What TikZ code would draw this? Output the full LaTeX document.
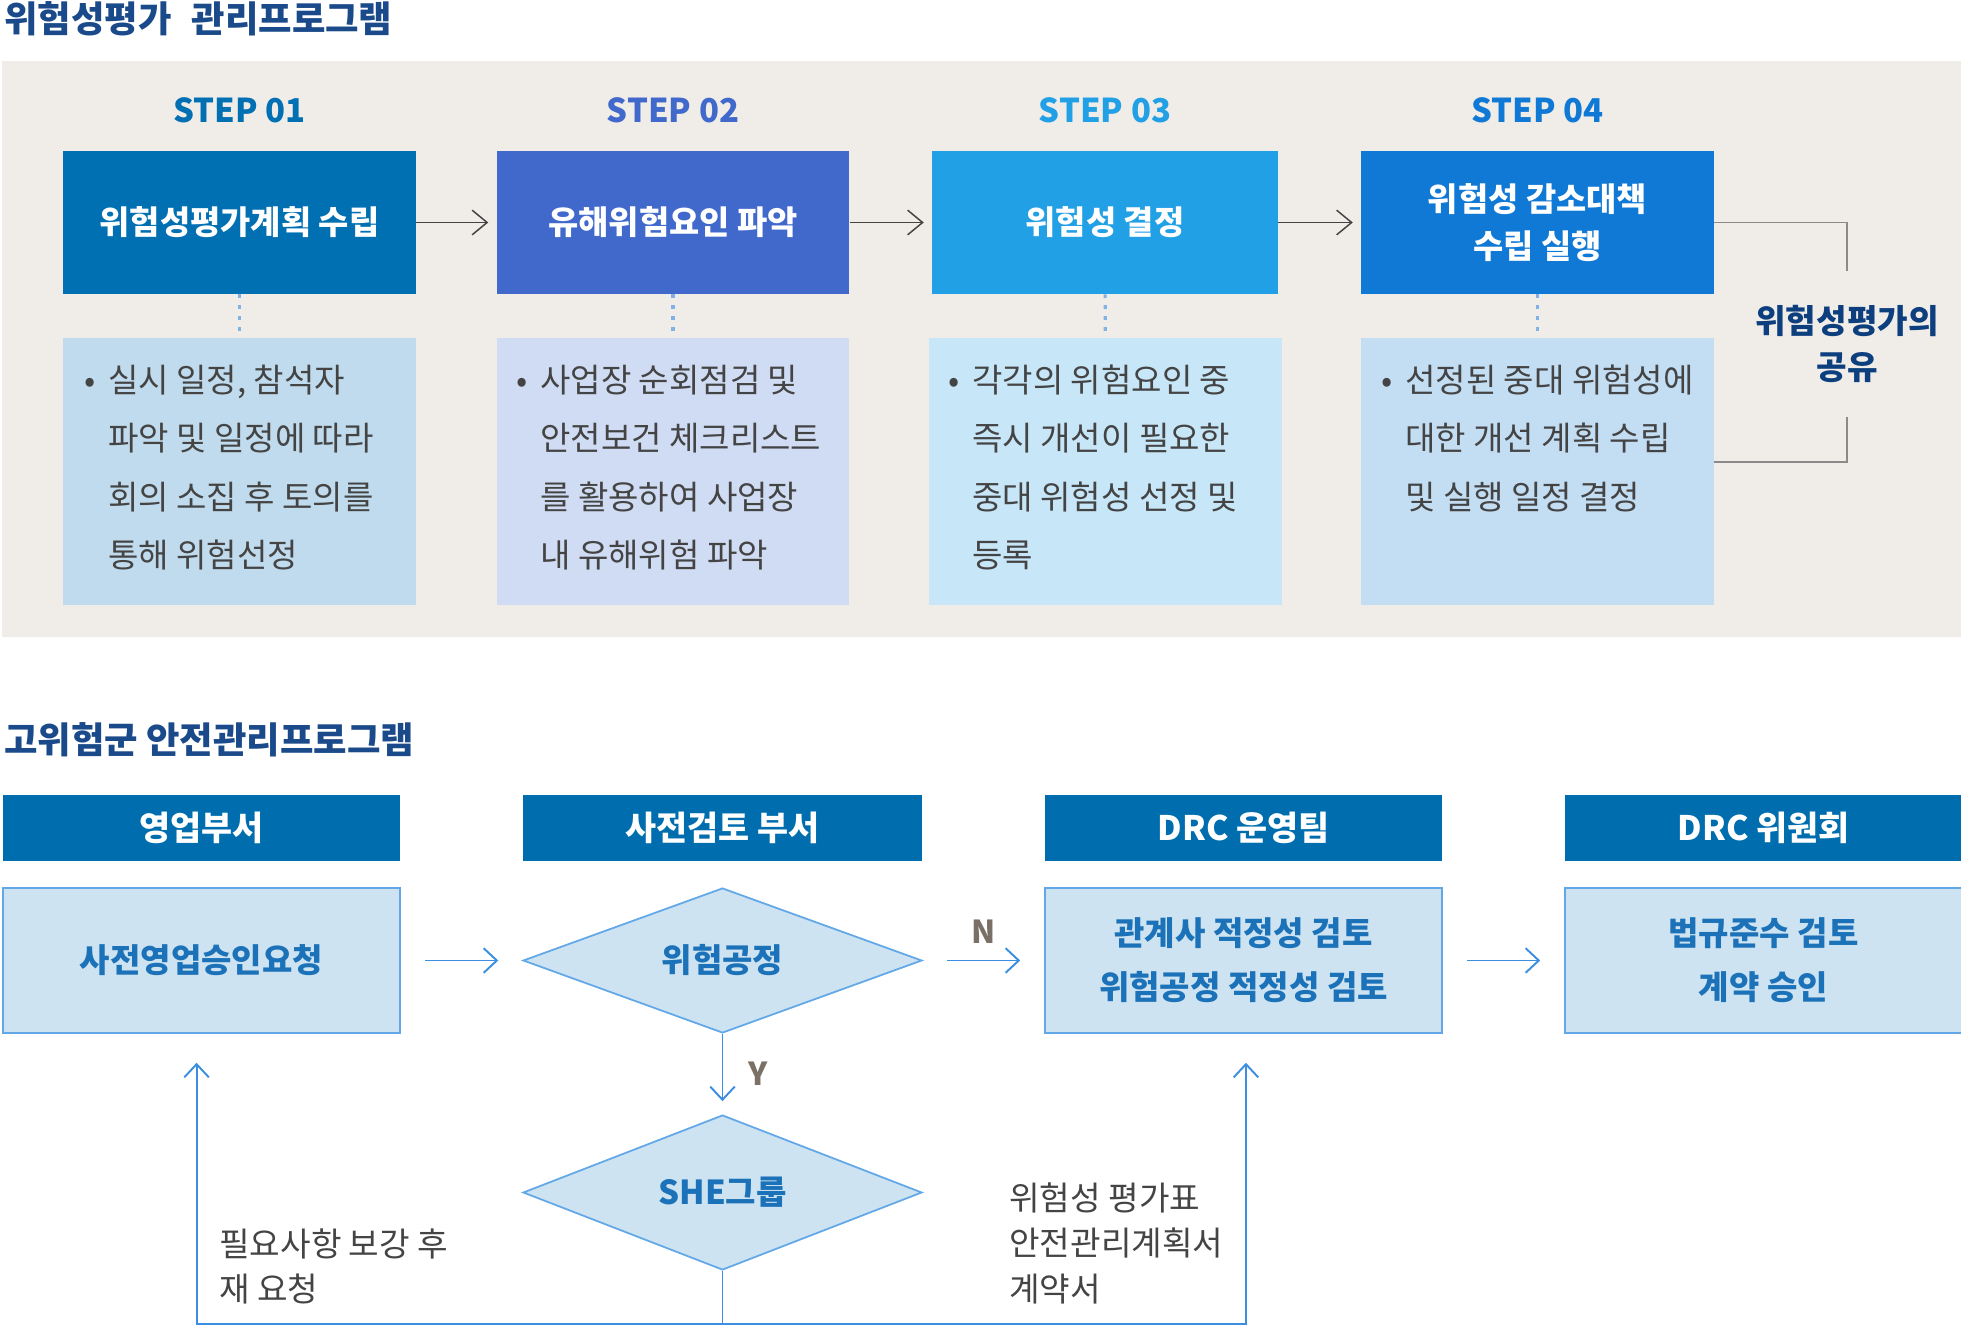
\documentclass[tikz,border=0pt]{standalone}
\usepackage{fontspec}
\setmainfont{Noto Sans CJK KR}
\usetikzlibrary{positioning,shapes.geometric,arrows.meta}
\definecolor{titlenavy}{HTML}{1B4A8A}
\definecolor{sharenavy}{HTML}{0D3F7E}
\definecolor{stepA}{HTML}{0070B3}
\definecolor{stepB}{HTML}{4169CC}
\definecolor{stepC}{HTML}{22A0E6}
\definecolor{stepD}{HTML}{1078D5}
\definecolor{noteA}{HTML}{C0DBED}
\definecolor{noteB}{HTML}{CFDCF3}
\definecolor{noteC}{HTML}{C7E6F8}
\definecolor{noteD}{HTML}{C3DDF3}
\definecolor{textgray}{HTML}{444444}
\definecolor{dotblue}{HTML}{80B2E6}
\definecolor{bracketgray}{HTML}{8A8A8A}
\definecolor{bggray}{HTML}{F0EDE9}
\definecolor{headblue}{HTML}{006EAE}
\definecolor{procfill}{HTML}{CDE3F1}
\definecolor{procline}{HTML}{62A8E8}
\definecolor{proctext}{HTML}{1C72B8}
\definecolor{flowblue}{HTML}{3C8FE0}
\definecolor{labelbrown}{HTML}{7B7066}

\begin{document}
\begin{tikzpicture}[x=0.02cm, y=-0.02cm,
  title/.style={anchor=west, inner sep=0, text=titlenavy, font=\fontsize{20.7}{24}\selectfont\bfseries},
  steplabel/.style={inner sep=0, font=\fontsize{18.7}{22}\selectfont\bfseries},
  stepbox/.style={minimum width=7.06cm, minimum height=2.86cm, inner sep=0, text=white, align=center, font=\fontsize{18.7}{27}\selectfont\bfseries},
  notebox/.style={minimum width=7.06cm, minimum height=5.34cm, inner sep=0},
  notetext/.style={anchor=north west, inner sep=0, align=left, text=textgray, font=\fontsize{18.8}{33.3}\selectfont},
  steparrow/.style={draw=textgray, line width=0.85pt, -{Straight Barb[length=8.5pt, width=14pt]}, shorten >=4.5pt},
  dotline/.style={draw=dotblue, line width=1.8pt, dash pattern=on 2.2pt off 4pt},
  bracket/.style={draw=bracketgray, line width=0.85pt},
  sharelabel/.style={inner sep=0, minimum height=2.9cm, align=center, text=sharenavy, font=\fontsize{18.9}{26.2}\selectfont\bfseries},
  headbox/.style={fill=headblue, minimum width=7.94cm, minimum height=1.32cm, inner sep=0, text=white, font=\fontsize{19.2}{22}\selectfont\bfseries},
  procbox/.style={fill=procfill, draw=procline, line width=1.1pt, minimum width=7.94cm, minimum height=2.9cm, inner sep=0, align=center, text=proctext, font=\fontsize{18.8}{30.6}\selectfont\bfseries},
  decision/.style={diamond, aspect=2.75, fill=procfill, draw=procline, line width=1pt, minimum width=7.98cm, minimum height=2.9cm, inner sep=0, text=proctext, font=\fontsize{18.8}{22}\selectfont\bfseries},
  flowarrow/.style={draw=flowblue, line width=1.1pt, -{Straight Barb[length=7.5pt, width=14pt]}},
  flowline/.style={draw=flowblue, line width=1.1pt},
  flowlabel/.style={inner sep=0, text=labelbrown, font=\fontsize{18}{20}\selectfont\bfseries},
  notelabel/.style={anchor=north west, inner sep=0, align=left, text=textgray, font=\fontsize{18.9}{26}\selectfont}]
\useasboundingbox[fill=white] (0,0) rectangle (1961,1327);
% Risk assessment programme
\fill[bggray] (2.5,61) rectangle (1961,637);
\node[title] (title1) at (4,19) {위험성평가\hspace{0.55em}관리프로그램};
\node[steplabel, text=stepA] (step1) at (239.5,110) {STEP 01};
\node[steplabel, text=stepB] (step2) at (673,110) {STEP 02};
\node[steplabel, text=stepC] (step3) at (1105,110) {STEP 03};
\node[steplabel, text=stepD] (step4) at (1537.5,110) {STEP 04};
\node[stepbox, fill=stepA] (plan) at (239.5,222.5) {위험성평가계획 수립};
\node[stepbox, fill=stepB] (hazard) at (673,222.5) {유해위험요인 파악};
\node[stepbox, fill=stepC, minimum width=6.92cm] (decide) at (1105,222.5) {위험성 결정};
\node[stepbox, fill=stepD] (reduce) at (1537.5,222.5) {위험성 감소대책\\수립 실행};
\node[notebox, fill=noteA] (planbox) at (239.5,471.5) {};
\node[notebox, fill=noteB] (hazardbox) at (673,471.5) {};
\node[notebox, fill=noteC] (decidebox) at (1105.5,471.5) {};
\node[notebox, fill=noteD] (reducebox) at (1537.5,471.5) {};
\node[notetext] (plantext) at (108,364.5) {\llap{•\hspace{7pt}}실시 일정, 참석자\\파악 및 일정에 따라\\회의 소집 후 토의를\\통해 위험선정};
\node[notetext] (hazardtext) at (540,364.5) {\llap{•\hspace{7pt}}사업장 순회점검 및\\안전보건 체크리스트\\를 활용하여 사업장\\내 유해위험 파악};
\node[notetext] (decidetext) at (972,364.5) {\llap{•\hspace{7pt}}각각의 위험요인 중\\즉시 개선이 필요한\\중대 위험성 선정 및\\등록};
\node[notetext] (reducetext) at (1405,364.5) {\llap{•\hspace{7pt}}선정된 중대 위험성에\\대한 개선 계획 수립\\및 실행 일정 결정};
\node[sharelabel] (share) at (1847,344) {위험성평가의\\공유};
% Lines
\draw[steparrow] (plan) -- (hazard);
\draw[steparrow] (hazard) -- (decide);
\draw[steparrow] (decide) -- (reduce);
\draw[dotline] (plan) -- (planbox);
\draw[dotline] (hazard) -- (hazardbox);
\draw[dotline] (decide) -- (decidebox);
\draw[dotline] (reduce) -- (reducebox);
\draw[bracket] (reduce.east) -| (share.north);
\draw[bracket] (share.south) |- ([yshift=5.4pt]reducebox.east);
% High risk group programme
\node[title] (title2) at (4,740) {고위험군 안전관리프로그램};
\node[headbox] (sales) at (201.5,828) {영업부서};
\node[headbox, minimum width=7.98cm] (review) at (722.5,828) {사전검토 부서};
\node[headbox] (drcteam) at (1243.5,828) {DRC 운영팀};
\node[headbox] (drccomm) at (1763.5,828) {DRC 위원회};
\node[procbox] (request) at (201.5,960.5) {사전영업승인요청};
\node[decision] (riskproc) at (722.5,960.5) {위험공정};
\node[procbox] (affiliate) at (1243.5,960.5) {관계사 적정성 검토\\위험공정 적정성 검토};
\node[procbox] (approve) at (1763.5,960.5) {법규준수 검토\\계약 승인};
\node[decision, minimum height=3.1cm] (she) at (722.5,1192.5) {SHE그룹};
\node[notelabel] (resubmit) at (219,1228) {필요사항 보강 후\\재 요청};
\node[notelabel] (documents) at (1009,1182) {위험성 평가표\\안전관리계획서\\계약서};
\coordinate (loop) at (722.5,1324);
% Lines
\draw[flowarrow, shorten <=13.6pt, shorten >=13.6pt] (request) -- (riskproc);
\draw[flowarrow, shorten <=13.6pt, shorten >=13.6pt] (riskproc) -- node[flowlabel, above=9pt] {N} (affiliate);
\draw[flowarrow, shorten <=13.6pt, shorten >=13.6pt] (affiliate) -- (approve);
\draw[flowarrow, shorten >=7.4pt] (riskproc) -- node[flowlabel, right=14pt] {Y} (she);
\draw[flowline] (she.south) -- (loop);
\draw[flowarrow, shorten >=16.4pt] (loop) -| ([xshift=-2.8pt]request.south);
\draw[flowarrow, shorten >=16.4pt] (loop) -| ([xshift=1.4pt]affiliate.south);
\end{tikzpicture}
\end{document}
